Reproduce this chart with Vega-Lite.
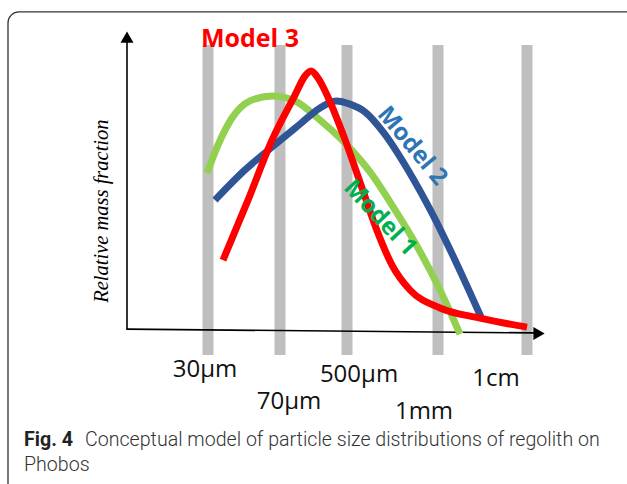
{
  "$schema": "https://vega.github.io/schema/vega-lite/v6.json",
  "width": 627,
  "height": 484,
  "padding": 0,
  "autosize": {"type": "fit", "contains": "padding"},
  "background": "white",
  "config": {"view": {"stroke": null}},
  "encoding": {
    "x": {"field": "x", "type": "quantitative", "axis": null, "scale": {"domain": [0, 627], "nice": false, "zero": false}},
    "y": {"field": "y", "type": "quantitative", "axis": null, "scale": {"domain": [-0.531, 1.138], "nice": false, "zero": false}}
  },
  "layer": [
    {
      "data": {"values": [{"x": 8, "y": 1.097, "x2": 720, "y2": -0.75}]},
      "mark": {"type": "rect", "fill": null, "stroke": "#333333", "strokeWidth": 1.3, "cornerRadius": 11, "clip": true},
      "encoding": {"x2": {"field": "x2"}, "y2": {"field": "y2"}}
    },
    {
      "data": {"values": [
        {"x": 202.5, "x2": 213.5, "y": 0.983, "y2": -0.086},
        {"x": 274.5, "x2": 285.5, "y": 0.983, "y2": -0.086},
        {"x": 341.5, "x2": 352.5, "y": 0.983, "y2": -0.086},
        {"x": 432.5, "x2": 443.5, "y": 0.983, "y2": -0.086},
        {"x": 521.5, "x2": 532.5, "y": 0.983, "y2": -0.086}
      ]},
      "mark": {"type": "rect", "color": "#BFBFBF"},
      "encoding": {"x2": {"field": "x2"}, "y2": {"field": "y2"}}
    },
    {
      "data": {"values": [
        {"x": 127, "y": 1.0, "x2": 127, "y2": 0.0},
        {"x": 127, "y": 0.003, "x2": 534, "y2": -0.010}
      ]},
      "mark": {"type": "rule", "color": "#000000", "strokeWidth": 1.6},
      "encoding": {"x2": {"field": "x2"}, "y2": {"field": "y2"}}
    },
    {
      "data": {"values": [
        {"x": 127, "y": 1.01, "dir": "up"}
      ]},
      "mark": {"type": "point", "shape": "triangle-up", "filled": true, "color": "#000000", "size": 170, "opacity": 1}
    },
    {
      "data": {"values": [
        {"x": 539, "y": -0.012, "dir": "right"}
      ]},
      "mark": {"type": "point", "shape": "triangle-right", "filled": true, "color": "#000000", "size": 170, "opacity": 1}
    },
    {
      "data": {"values": [
        {"x": 207, "y": 0.541}, {"x": 218, "y": 0.638}, {"x": 232, "y": 0.731}, {"x": 250, "y": 0.790},
        {"x": 272, "y": 0.807}, {"x": 295, "y": 0.790}, {"x": 320, "y": 0.724}, {"x": 345, "y": 0.645},
        {"x": 370, "y": 0.545}, {"x": 395, "y": 0.414}, {"x": 418, "y": 0.283}, {"x": 440, "y": 0.138},
        {"x": 460, "y": -0.014}
      ]},
      "mark": {"type": "line", "color": "#92D050", "strokeWidth": 7, "interpolate": "monotone", "strokeCap": "butt"}
    },
    {
      "data": {"values": [
        {"x": 215, "y": 0.448}, {"x": 245, "y": 0.552}, {"x": 272, "y": 0.631}, {"x": 300, "y": 0.710},
        {"x": 320, "y": 0.766}, {"x": 336, "y": 0.790}, {"x": 350, "y": 0.779}, {"x": 365, "y": 0.752},
        {"x": 384, "y": 0.679}, {"x": 408, "y": 0.552}, {"x": 432, "y": 0.403}, {"x": 456, "y": 0.234},
        {"x": 481, "y": 0.045}
      ]},
      "mark": {"type": "line", "color": "#2F5597", "strokeWidth": 7, "interpolate": "monotone", "strokeCap": "butt"}
    },
    {
      "data": {"values": [
        {"x": 223, "y": 0.241}, {"x": 248, "y": 0.448}, {"x": 272, "y": 0.655}, {"x": 295, "y": 0.810},
        {"x": 305, "y": 0.876}, {"x": 311, "y": 0.893}, {"x": 318, "y": 0.869}, {"x": 328, "y": 0.803},
        {"x": 344, "y": 0.666}, {"x": 360, "y": 0.510}, {"x": 376, "y": 0.352}, {"x": 392, "y": 0.224},
        {"x": 410, "y": 0.138}, {"x": 440, "y": 0.076}, {"x": 480, "y": 0.041}, {"x": 527, "y": 0.010}
      ]},
      "mark": {"type": "line", "color": "#FF0000", "strokeWidth": 7, "interpolate": "monotone", "strokeCap": "butt"}
    },
    {
      "data": {"values": [{"x": 250, "y": 0.976, "label": "Model 3"}]},
      "mark": {"type": "text", "color": "#FF0000", "font": "Open Sans", "fontWeight": "bold", "fontSize": 25, "align": "center", "baseline": "alphabetic"},
      "encoding": {"text": {"field": "label"}}
    },
    {
      "data": {"values": [{"x": 412, "y": 0.634, "label": "Model 2"}]},
      "mark": {"type": "text", "color": "#2E75B6", "font": "Open Sans", "fontWeight": "bold", "fontSize": 24, "align": "center", "baseline": "middle", "angle": 50},
      "encoding": {"text": {"field": "label"}}
    },
    {
      "data": {"values": [{"x": 380, "y": 0.386, "label": "Model 1"}]},
      "mark": {"type": "text", "color": "#00B050", "font": "Open Sans", "fontWeight": "bold", "fontSize": 24, "align": "center", "baseline": "middle", "angle": 47},
      "encoding": {"text": {"field": "label"}}
    },
    {
      "data": {"values": [{"x": 102, "y": 0.41, "label": "Relative mass fraction"}]},
      "mark": {"type": "text", "color": "#000000", "font": "Liberation Serif", "fontStyle": "italic", "fontSize": 20.5, "align": "center", "baseline": "middle", "angle": 270},
      "encoding": {"text": {"field": "label"}}
    },
    {
      "data": {"values": [
        {"x": 205, "y": -0.162, "label": "30µm"},
        {"x": 289, "y": -0.272, "label": "70µm"},
        {"x": 359, "y": -0.179, "label": "500µm"},
        {"x": 424, "y": -0.306, "label": "1mm"},
        {"x": 496, "y": -0.193, "label": "1cm"}
      ]},
      "mark": {"type": "text", "color": "#111111", "font": "Open Sans", "fontSize": 24, "align": "center", "baseline": "alphabetic"},
      "encoding": {"text": {"field": "label"}}
    },
    {
      "data": {"values": [{"x": 24, "y": -0.4, "label": "Fig. 4"}]},
      "mark": {"type": "text", "color": "#222222", "font": "Roboto", "fontWeight": "bold", "fontSize": 19.6, "align": "left", "baseline": "alphabetic"},
      "encoding": {"text": {"field": "label"}}
    },
    {
      "data": {"values": [
        {"x": 85, "y": -0.4, "label": "Conceptual model of particle size distributions of regolith on"},
        {"x": 24, "y": -0.486, "label": "Phobos"}
      ]},
      "mark": {"type": "text", "color": "#333333", "font": "Roboto", "fontWeight": 300, "fontSize": 19.6, "align": "left", "baseline": "alphabetic"},
      "encoding": {"text": {"field": "label"}}
    }
  ]
}
